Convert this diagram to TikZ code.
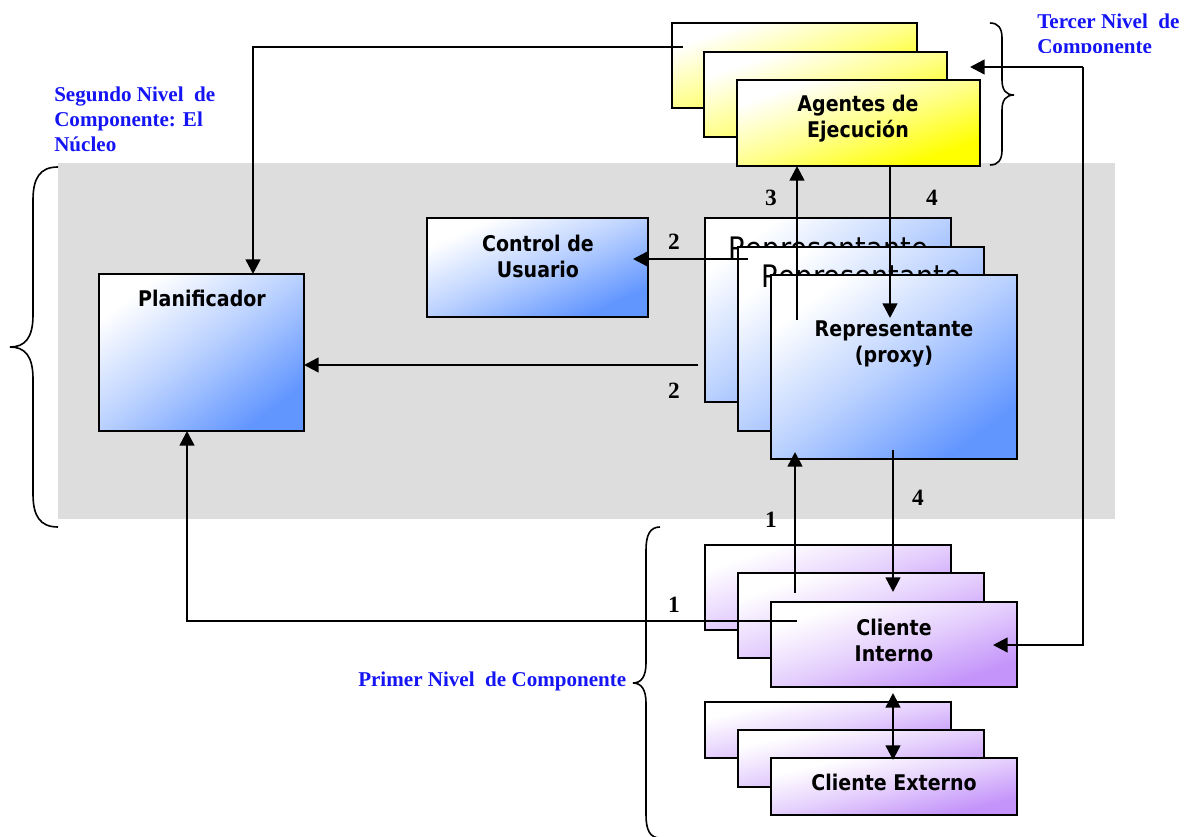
\documentclass[tikz,border=0pt]{standalone}
\usepackage{fontspec}
\usetikzlibrary{arrows.meta}
\newfontfamily\boxfont[FakeStretch=0.88]{DejaVu Sans}
\newfontfamily\labelfont{Liberation Serif}
\definecolor{coreblue}{RGB}{98,150,255}
\definecolor{agentyellow}{RGB}{255,255,0}
\definecolor{clientviolet}{RGB}{196,148,250}
\definecolor{blockgray}{RGB}{221,221,221}
\definecolor{levelblue}{RGB}{20,20,245}
\colorlet{bluemid}{coreblue!45!white}
\colorlet{yellowmid}{agentyellow!45!white}
\colorlet{violetmid}{clientviolet!45!white}

% diagonal fades: full colour in one corner, white in the opposite one
\pgfdeclareverticalshading{bluefade}{100bp}{color(0bp)=(coreblue); color(25bp)=(coreblue); color(50bp)=(bluemid); color(75bp)=(white); color(100bp)=(white)}
\pgfdeclareverticalshading{yellowfade}{100bp}{color(0bp)=(agentyellow); color(25bp)=(agentyellow); color(50bp)=(yellowmid); color(75bp)=(white); color(100bp)=(white)}
\pgfdeclareverticalshading{violetfade}{100bp}{color(0bp)=(clientviolet); color(25bp)=(clientviolet); color(50bp)=(violetmid); color(75bp)=(white); color(100bp)=(white)}

% \panel{name}{x1}{y1}{x2}{y2}{shading}: framed rectangle between two corners (px units);
% the fade is drawn on a square stretched onto the box, so it runs corner to corner
\newcommand\panel[6]{%
  \begin{scope}[transform canvas={shift={(#2,#5)}, xscale={(#4-#2)*0.075}, yscale={(#5-#3)*0.075}}]
    \shade[shading=#6, shading angle=45] (0pt,0pt) rectangle (10pt,10pt);
  \end{scope}
  \node[panelbase, minimum width={(#4-#2)*0.75pt}, minimum height={(#5-#3)*0.75pt}]
    (#1) at ({(#2+#4)/2},{(#3+#5)/2}) {};}

\tikzset{
  panelbase/.style={draw=black, line width=1.4pt, inner sep=0pt, outer sep=0pt},
  wire/.style={line width=1.9pt, draw=black},
  tip/.style={-{Triangle[length=11pt,width=11pt]}},
  bothtips/.style={{Triangle[length=11pt,width=11pt]}-{Triangle[length=11pt,width=11pt]}},
  boxtext/.style={font=\boxfont\bfseries\fontsize{16.2}{19.5}\selectfont, align=center, inner sep=0pt},
  bigtext/.style={font=\boxfont\fontsize{23.25}{28}\selectfont, inner sep=0pt, anchor=base},
  stepnum/.style={font=\labelfont\bfseries\fontsize{17.5}{18}\selectfont, inner sep=0pt},
  levellabel/.style={font=\labelfont\bfseries\fontsize{15.8}{18.75}\selectfont, text=levelblue, align=left, inner sep=0pt},
  brace/.style={line width=1.2pt, draw=black}
}

\begin{document}
\begin{tikzpicture}[x=0.75pt, y=-0.75pt]
\useasboundingbox (0,0) rectangle (1194,837);

% core area
\fill[blockgray] (58,163) rectangle (1115,519);

% execution agents (third level)
\panel{ag1}{672}{23}{917}{108}{yellowfade}
\panel{ag2}{704}{52}{947}{137}{yellowfade}
\panel{ag3}{737}{80}{980}{166}{yellowfade}
\node[boxtext] (agtxt) at (858,119) {Agentes de\\Ejecución};

% core components
\panel{plan}{99}{274}{304}{431}{bluefade}
\node[boxtext, anchor=base] (plantxt) at (202,307) {Planificador};
\panel{ctrl}{427}{218}{648}{317}{bluefade}
\node[boxtext] (ctrltxt) at (538,256) {Control de\\Usuario};

\panel{rep1}{705}{218}{951}{402}{bluefade}
\node[bigtext] (rep1txt) at (828,260) {Representante};
\panel{rep2}{738}{247}{984}{431}{bluefade}
\node[bigtext] (rep2txt) at (861,288) {Representante};
\panel{rep3}{771}{275}{1017}{459}{bluefade}
\node[boxtext] (rep3txt) at (894,344) {Representante\\(proxy)};

% clients (first level)
\panel{ci1}{705}{545}{951}{630}{violetfade}
\panel{ci2}{738}{573}{984}{658}{violetfade}
\panel{ci3}{771}{602}{1017}{687}{violetfade}
\node[boxtext] (citxt) at (894,640) {Cliente\\Interno};

\panel{ce1}{705}{702}{951}{758}{violetfade}
\panel{ce2}{738}{730}{984}{787}{violetfade}
\panel{ce3}{771}{758}{1017}{815}{violetfade}
\node[boxtext, anchor=base] (cetxt) at (894,790) {Cliente Externo};

% free ends of the connectors
\coordinate (agOut) at (683,47);
\coordinate (agBend) at (253,47);
\coordinate (loopTop) at (1083,67);
\coordinate (loopTip) at (970,67);
\coordinate (loopBot) at (1083,645);
\coordinate (ciTip) at (993,645);
\coordinate (repUp) at (797,320);
\coordinate (agDown) at (890,166);
\coordinate (repTip) at (890,318);
\coordinate (repLeft) at (748,259);
\coordinate (ctrlTip) at (633,259);
\coordinate (repLeft2) at (698,365);
\coordinate (ciUp) at (795,593);
\coordinate (repBotTip) at (795,452);
\coordinate (repDown) at (893,450);
\coordinate (ciTop) at (893,592);
\coordinate (ciLeft) at (797,621);
\coordinate (planBend) at (187,621);
\coordinate (ciLow) at (893,693);
\coordinate (ceTop) at (893,760);

% connectors
\draw[wire, tip] (agOut) -- (agBend) -- (agBend |- plan.north);
\draw[wire, tip] (loopTop) -- (loopTip);
\draw[wire, tip] (loopTop) -- (loopBot) -- (ciTip);
\draw[wire, tip] (repUp) -- (repUp |- ag3.south);
\draw[wire, tip] (agDown) -- (repTip);
\draw[wire, tip] (repLeft) -- (ctrlTip);
\draw[wire, tip] (repLeft2) -- (repLeft2 -| plan.east);
\draw[wire, tip] (ciUp) -- (repBotTip);
\draw[wire, tip] (repDown) -- (ciTop);
\draw[wire, tip] (ciLeft) -- (planBend) -- (planBend |- plan.south);
\draw[wire, bothtips] (ciLow) -- (ceTop);

% step numbers
\node[stepnum] (n3) at (771,198) {3};
\node[stepnum] (n4a) at (932,198) {4};
\node[stepnum] (n2a) at (674,242) {2};
\node[stepnum] (n2b) at (674,391) {2};
\node[stepnum] (n1a) at (771,520) {1};
\node[stepnum] (n4b) at (918,498) {4};
\node[stepnum] (n1b) at (674,605) {1};

% braces
\draw[brace] (58,167) .. controls (40,167) and (33,178) .. (33,200) -- (33,315)
  .. controls (33,338) and (25,347) .. (10,347)
  .. controls (25,347) and (33,356) .. (33,379) -- (33,494)
  .. controls (33,516) and (40,527) .. (58,527);
\draw[brace] (990,23) .. controls (998,23) and (1002,28) .. (1002,38) -- (1002,80)
  .. controls (1002,90) and (1006,95) .. (1014,95)
  .. controls (1006,95) and (1002,100) .. (1002,110) -- (1002,150)
  .. controls (1002,160) and (998,165) .. (990,165);
\draw[brace] (660,527) .. controls (650,527) and (646,535) .. (646,550) -- (646,663)
  .. controls (646,677) and (641,683) .. (633,683)
  .. controls (641,683) and (646,689) .. (646,703) -- (646,815)
  .. controls (646,830) and (650,838) .. (660,838);

% level labels (the third-level caption box cuts its last line at the baseline)
\begin{scope}
  \clip (1030,0) rectangle (1194,53);
  \node[levellabel, anchor=north west] (lvl3) at (1037,14) {Tercer Nivel\ \ de\\Componente};
\end{scope}
\node[levellabel, anchor=north west] (lvl2) at (54,87) {Segundo Nivel\ \ de\\Componente: El\\Núcleo};
\node[levellabel, anchor=base west] (lvl1) at (358,686) {Primer Nivel\ \ de Componente};
\end{tikzpicture}
\end{document}
